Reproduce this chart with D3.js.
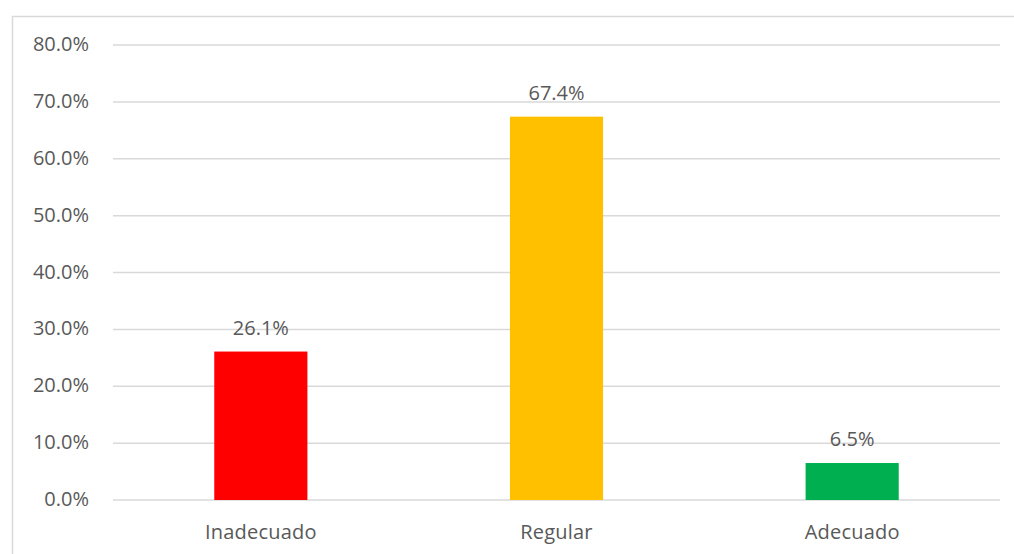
<!DOCTYPE html>
<html>
<head>
<meta charset="utf-8">
<script src="https://cdn.jsdelivr.net/npm/d3@7"></script>
<style>
  html, body { margin: 0; padding: 0; background: #fff; }
  svg text { font-family: "Open Sans", "Liberation Sans", sans-serif; fill: #595959; }
</style>
</head>
<body>
<svg id="chart" width="1014" height="554"></svg>
<script>
const categories = ["Inadecuado", "Regular", "Adecuado"];
const values = [26.1, 67.4, 6.5];
const colors = ["#FF0000", "#FFC000", "#00B050"];
const tickValues = [0, 10, 20, 30, 40, 50, 60, 70, 80];

const svg = d3.select("#chart");
const margin = { left: 113, right: 14, top: 45, bottom: 54 };
const W = 1014, H = 554;

// chart border
svg.append("rect")
  .attr("x", 12.5).attr("y", 16.5)
  .attr("width", 1100).attr("height", 700)
  .attr("fill", "none").attr("stroke", "#d9d9d9").attr("stroke-width", 1.5);

const x = d3.scaleBand().domain(categories)
  .range([margin.left, W - margin.right])
  .paddingInner(0.685).paddingOuter(0.3425);
const y = d3.scaleLinear().domain([0, 80]).range([H - margin.bottom, margin.top]);

// gridlines
svg.append("g").selectAll("line").data(tickValues).join("line")
  .attr("x1", margin.left).attr("x2", W - margin.right)
  .attr("y1", d => y(d)).attr("y2", d => y(d))
  .attr("stroke", "#d9d9d9").attr("stroke-width", 1.5);

// y tick labels
svg.append("g").selectAll("text").data(tickValues).join("text")
  .attr("x", 89).attr("y", d => y(d) + 6)
  .attr("text-anchor", "end")
  .style("font-size", "20px")
  .text(d => d3.format(".1f")(d) + "%");

// bars
svg.append("g").selectAll("rect").data(values).join("rect")
  .attr("x", (d, i) => x(categories[i]))
  .attr("width", x.bandwidth())
  .attr("y", d => y(d))
  .attr("height", d => y(0) - y(d))
  .attr("fill", (d, i) => colors[i]);

// value labels
svg.append("g").selectAll("text").data(values).join("text")
  .attr("x", (d, i) => x(categories[i]) + x.bandwidth() / 2)
  .attr("y", d => y(d) - 17)
  .attr("text-anchor", "middle")
  .style("font-size", "20px")
  .text(d => d3.format(".1f")(d) + "%");

// category labels
svg.append("g").selectAll("text").data(categories).join("text")
  .attr("x", d => x(d) + x.bandwidth() / 2)
  .attr("y", 539)
  .attr("text-anchor", "middle")
  .style("font-size", "20px")
  .style("letter-spacing", "0.2px")
  .text(d => d);
</script>
</body>
</html>
